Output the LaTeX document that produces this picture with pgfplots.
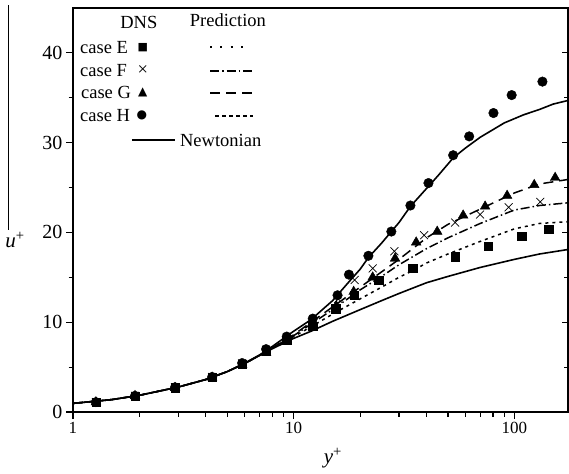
\documentclass[border=0pt]{standalone}
\usepackage{fontspec}
\setmainfont{Liberation Serif}
\newfontfamily\symfont{DejaVu Sans}
\usepackage{pgfplots}
\usepackage{pgfplotstable}
\pgfplotsset{compat=1.18}

% prediction curves
\pgfplotstableread{
x u
1 0.96
1.5 1.38
2 1.86
3 2.78
4 3.62
5 4.5
6 5.4
7 6.3
8 7.05
10 8.2
12 9.0
15 10.1
20 11.4
25 12.4
30 13.2
40 14.4
50 15.1
70 16.1
100 17.0
130 17.6
175 18.1
}\newt
\pgfplotstableread{
x u
1 0.96
1.5 1.38
2 1.86
3 2.78
4 3.62
5 4.5
6 5.4
7 6.3
8 7.1
10 8.4
12 9.5
15 10.9
20 12.6
25 13.9
30 15.0
35 15.8
40 16.6
50 17.6
70 19.0
100 20.4
130 21.0
175 21.2
}\predE
\pgfplotstableread{
x u
1 0.96
1.5 1.38
2 1.86
3 2.78
4 3.62
5 4.5
6 5.4
7 6.3
8 7.15
10 8.5
12 9.8
15 11.4
20 13.6
25 15.1
30 16.4
40 18.2
50 19.4
70 21.0
100 22.5
130 23.0
175 23.3
}\predF
\pgfplotstableread{
x u
1 0.96
1.5 1.38
2 1.86
3 2.78
4 3.62
5 4.5
6 5.4
7 6.3
8 7.15
10 8.6
12 10.0
15 11.7
20 13.9
25 15.6
30 17.0
40 19.4
50 20.9
70 22.6
100 24.4
130 25.4
175 25.9
}\predG
\pgfplotstableread{
x u
1 0.96
1.5 1.38
2 1.86
3 2.78
4 3.62
5 4.5
6 5.45
7 6.35
8 7.3
10 9.0
12 10.3
15 12.4
17.8 14.5
20 15.9
21.8 17.2
25 18.8
27.7 20.1
30 21.1
33.8 22.9
40 24.9
45 26.3
52.8 28.3
60 29.4
70 30.6
90 32.2
110 33.1
130 33.7
150 34.3
175 34.7
}\predH

% DNS points
\pgfplotstableread{
x u
1.27 1.1
1.91 1.8
2.9 2.7
4.27 3.85
5.84 5.3
7.5 6.8
9.3 8.0
12.2 9.6
15.5 11.5
18.8 13.0
24.3 14.7
34.6 16.0
53.9 17.3
76.3 18.5
108 19.6
143 20.4
}\dnsE
\pgfplotstableread{
x u
1.27 1.1
1.91 1.8
2.9 2.75
4.27 3.9
5.84 5.4
7.5 6.9
9.3 8.3
12.2 10.0
15.9 12.6
18.9 14.7
22.8 16.0
28.6 17.9
39.0 19.7
53.9 21.1
69.9 22.0
94.2 22.8
131 23.4
}\dnsF
\pgfplotstableread{
x u
1.27 1.1
1.91 1.8
2.9 2.7
4.27 3.85
5.84 5.25
7.5 6.6
9.3 7.9
12.2 9.5
15.6 11.8
18.7 13.4
22.8 15.0
28.8 17.1
35.9 18.9
44.7 20.1
58.6 21.9
73.7 22.9
92.7 24.1
123 25.3
153 26.1
}\dnsG
\pgfplotstableread{
x u
1.27 1.1
1.91 1.8
2.9 2.75
4.27 3.9
5.84 5.45
7.5 7.0
9.3 8.4
12.2 10.4
15.8 13.0
17.8 15.3
21.8 17.4
27.7 20.1
33.8 23.0
40.8 25.5
52.8 28.6
62.4 30.7
80.4 33.3
97.2 35.3
134 36.8
}\dnsH

\tikzset{
  lE/.style={line width=1.5pt, dash pattern=on 3pt off 4pt},
  lF/.style={line width=1.5pt, dash pattern=on 9pt off 3pt on 1.5pt off 3pt},
  lG/.style={line width=1.5pt, dash pattern=on 10pt off 6pt},
  lH/.style={line width=1.6pt},
  lN/.style={line width=1.6pt},
  lg/.style={font=\fontsize{18.5}{20}\selectfont, inner sep=0pt},
}

\begin{document}
\begin{tikzpicture}
\begin{axis}[
  at={(0pt,0pt)}, anchor=south west,
  width=495pt, height=404pt, scale only axis,
  xmode=log, xmin=1, xmax=175, ymin=0, ymax=45,
  xtick={1,10,100}, xticklabels={1,10,100},
  minor xtick={2,3,4,5,6,7,8,9,20,30,40,50,60,70,80,90},
  ytick={0,10,20,30,40}, minor ytick={5,15,25,35},
  tick align=outside, xtick pos=bottom, ytick pos=left,
  major tick length=7pt, minor tick length=4.5pt,
  every tick/.style={black, line width=1.2pt},
  axis line style={line width=1.3pt},
  /pgf/number format/assume math mode=true,
  xticklabel style={font=\fontsize{17}{19}\selectfont},
  yticklabel style={font=\fontsize{20}{22}\selectfont},
  clip=false,
]
\addplot[lN, black] table {\newt};
\addplot[lE, black] table {\predE};
\addplot[lF, black] table {\predF};
\addplot[lG, black] table {\predG};
\addplot[lH, black] table {\predH};

\addplot[only marks, mark=square*, mark size=4.1pt, black] table {\dnsE};
\addplot[only marks, mark=x, mark size=5.6pt, black, mark options={line width=0.7pt}] table {\dnsF};
\addplot[only marks, mark=triangle*, mark size=5.6pt, black] table {\dnsG};
\addplot[only marks, mark=*, mark size=4.8pt, black] table {\dnsH};

% legend
\node[lg] at (axis description cs:0.133,0.965) {DNS};
\node[lg] at (axis description cs:0.313,0.970) {Prediction};
\node[lg, anchor=west] at (axis description cs:0.014,0.903) {case E};
\node[lg, anchor=west] at (axis description cs:0.014,0.844) {case F};
\node[lg, anchor=west] at (axis description cs:0.016,0.790) {case G};
\node[lg, anchor=west] at (axis description cs:0.014,0.733) {case H};
\node[inner sep=0pt] at (axis description cs:0.141,0.903) {\symfont\fontsize{11}{11}\selectfont ■};
\node[lg] at (axis description cs:0.141,0.846) {×};
\node[inner sep=0pt] at (axis description cs:0.141,0.792) {\symfont\fontsize{12}{12}\selectfont ▲};
\node[inner sep=0pt] at (axis description cs:0.139,0.733) {\symfont\fontsize{12}{12}\selectfont ●};
\node[lg, anchor=west] at (axis description cs:0.216,0.673) {Newtonian};
\draw[line width=1.5pt, dash pattern=on 1.8pt off 8.5pt] (axis description cs:0.277,0.903) -- (axis description cs:0.350,0.903);
\draw[lF] (axis description cs:0.277,0.844) -- (axis description cs:0.362,0.844);
\draw[lG] (axis description cs:0.277,0.790) -- (axis description cs:0.362,0.790);
\draw[line width=1.5pt, dash pattern=on 4pt off 3pt] (axis description cs:0.287,0.733) -- (axis description cs:0.364,0.733);
\draw[lN] (axis description cs:0.119,0.673) -- (axis description cs:0.206,0.673);

% axis titles
\node[font=\fontsize{21}{23}\selectfont] at (axis description cs:-0.117,0.426) {\textit{u}\textsuperscript{+}};
\node[font=\fontsize{21}{23}\selectfont] at (axis description cs:0.525,-0.114) {\textit{y}\textsuperscript{+}};
% stray frame line at the left edge of the figure
\draw[line width=1pt] (axis description cs:-0.131,1.007) -- (axis description cs:-0.131,0.45);
\end{axis}

% right-hand axis: inward ticks only
\begin{axis}[
  at={(0pt,0pt)}, anchor=south west,
  width=495pt, height=404pt, scale only axis,
  xmode=log, xmin=1, xmax=175, ymin=0, ymax=45,
  axis x line=none, axis y line*=right,
  ytick={10,20,30,40}, minor ytick={5,15,25,35}, yticklabels={},
  tick align=inside,
  major tick length=6pt, minor tick length=4pt,
  every tick/.style={black, line width=1.2pt},
  axis line style={line width=1.3pt},
]
\end{axis}

\pgfresetboundingbox
\path (-73pt,-61pt) rectangle (496pt,412pt);
\end{tikzpicture}
\end{document}
